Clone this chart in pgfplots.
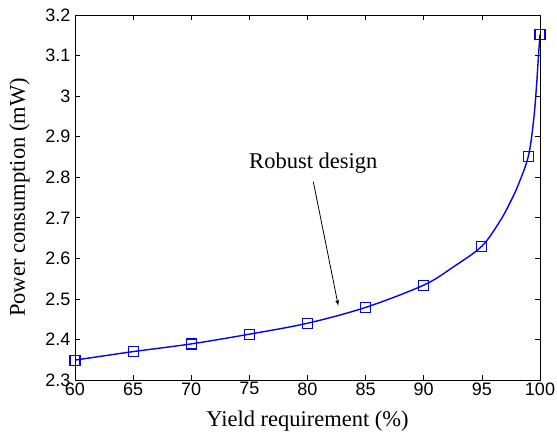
\documentclass[border=0pt]{standalone}
\usepackage{pgfplots}
\pgfplotsset{compat=1.18}
\usepackage{fontspec}
\setmainfont{Liberation Serif}
\newfontfamily\tickfont{Liberation Sans}
\begin{document}
\begin{tikzpicture}
\begin{axis}[
  scale only axis,
  width=465pt, height=365pt,
  xmin=60, xmax=100, ymin=2.3, ymax=3.2,
  xtick={60,65,...,100},
  ytick={2.3,2.4,...,3.2},
  /pgf/number format/assume math mode=true,
  yticklabel style={/pgf/number format/fixed,/pgf/number format/precision=1, xshift=-1pt},
  xticklabel style={yshift=1pt},
  ticklabel style={font=\tickfont\fontsize{18}{20}\selectfont},
  tick align=inside,
  major tick length=5pt,
  tick style={black, line width=0.6pt},
  axis line style={line width=0.8pt},
  xlabel={Yield requirement (\%)},
  ylabel={Power consumption (mW)},
  label style={font=\fontsize{22.5}{25}\selectfont},
  xlabel style={yshift=-9pt},
  ylabel style={yshift=9pt},
]
% curve
\addplot[blue, line width=1.4pt, smooth, tension=0.55] coordinates {
(60,2.349) (65,2.370) (70,2.389) (75,2.413) (80,2.440) (85,2.479) (90,2.534) (92.5,2.578) (95,2.630)
(96.56,2.692) (97.42,2.737) (98.14,2.782) (99,2.852) (99.45,2.940) (99.7,3.025) (99.88,3.105) (100,3.152)
};
% data markers
\addplot[blue, only marks, mark=square, mark size=5pt, mark options={line width=1.2pt, fill=none}] coordinates {
(60,2.349) (65,2.370) (70,2.389) (75,2.413) (80,2.440) (85,2.479) (90,2.534) (95,2.630) (99,2.852) (100,3.152)
};
\node[font=\fontsize{22.5}{25}\selectfont] at (axis cs:80.5,2.835) {Robust design};
\draw[-latex, line width=0.8pt] (axis cs:80.5,2.789) -- (axis cs:82.65,2.483);
\end{axis}
\pgfresetboundingbox
\path (current axis.south west) ++(-75pt,-59pt) rectangle ++(557pt,439pt);
\end{tikzpicture}
\end{document}
